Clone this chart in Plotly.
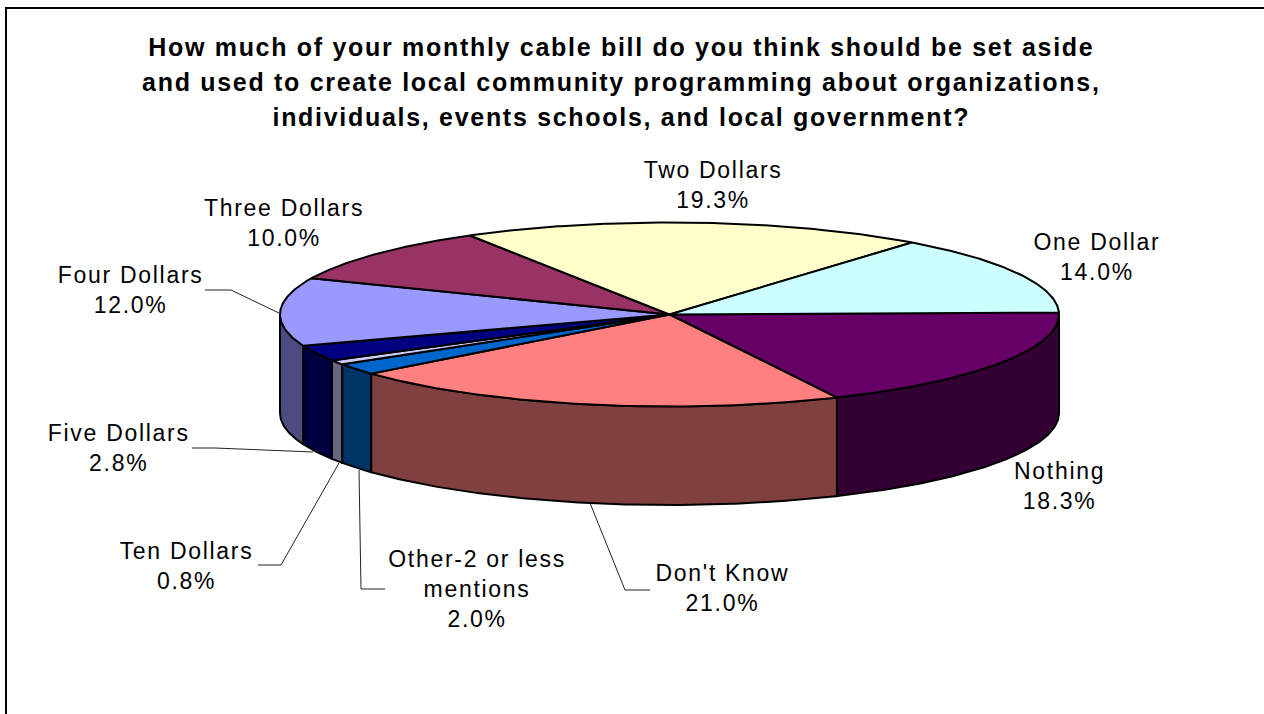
import numpy as np
import plotly.graph_objects as go

# Survey answers, in clockwise drawing order starting from 3 o'clock
categories = ["Nothing", "Don't Know", "Other-2 or less<br>mentions", "Ten Dollars",
              "Five Dollars", "Four Dollars", "Three Dollars", "Two Dollars", "One Dollar"]
shares = [18.3, 21.0, 2.0, 0.8, 2.8, 12.0, 10.0, 19.3, 14.0]
top_colors = ["#660066", "#FF8080", "#0066CC", "#CCCCFF", "#000080",
              "#9999FF", "#993366", "#FFFFCC", "#CCFFFF"]
wall_colors = ["#330033", "#804040", "#003366", "#666680", "#000040",
               "#4C4C80", "#4C1933", "#808066", "#668080"]

title_lines = [
    "How much of your monthly cable bill do you think should be set aside",
    "and used to create local community programming about organizations,",
    "individuals, events schools, and local government?",
]

W, H = 1264, 714
CX, CY = 669.5, 314.5    # centre of the pie's top face
RX, RY = 389.5, 92       # ellipse radii of the top face
DEPTH = 98.5             # height of the cylinder wall
ROTATION = -1.2          # degrees
EDGE = dict(color="black", width=2)

# Centre of each text label
label_xy = {
    "Nothing": (1059, 486), "Don't Know": (722, 588),
    "Other-2 or less<br>mentions": (477, 589), "Ten Dollars": (186, 566),
    "Five Dollars": (118, 448), "Four Dollars": (130, 290),
    "Three Dollars": (284, 223), "Two Dollars": (713, 185), "One Dollar": (1097, 257),
}

# Leader lines joining outlying labels to their slices
leaders = [
    [(205, 290), (231, 290), (281, 314)],
    [(192, 448), (215, 448), (313, 452)],
    [(258, 565), (281, 565), (339, 463)],
    [(385, 589), (361, 589), (359, 470)],
    [(650, 590), (625, 590), (590, 503)],
]


def rim(start, stop, drop=0.0):
    t = np.radians(np.linspace(start, stop, max(int(abs(stop - start) * 2), 2)))
    return CX + RX * np.cos(t), CY + RY * np.sin(t) + drop


values = np.array(shares)
edges = ROTATION + np.concatenate([[0], np.cumsum(values)]) / values.sum() * 360

fig = go.Figure()

# Cylinder wall: only the part of each slice facing the viewer
for i, color in enumerate(wall_colors):
    a, b = max(edges[i], 0), min(edges[i + 1], 180)
    if b <= a:
        continue
    x1, y1 = rim(a, b)
    x2, y2 = rim(b, a, DEPTH)
    fig.add_trace(go.Scatter(
        x=np.r_[x1, x2, x1[0]], y=np.r_[y1, y2, y1[0]], mode="lines",
        fill="toself", fillcolor=color, line=EDGE, hoverinfo="skip", showlegend=False))

# Top face
for i, color in enumerate(top_colors):
    x1, y1 = rim(edges[i], edges[i + 1])
    fig.add_trace(go.Scatter(
        x=np.r_[CX, x1, CX], y=np.r_[CY, y1, CY], mode="lines",
        fill="toself", fillcolor=color, line=EDGE,
        name=categories[i], hoverinfo="skip", showlegend=False))

for path in leaders:
    fig.add_trace(go.Scatter(
        x=[p[0] for p in path], y=[p[1] for p in path], mode="lines",
        line=dict(color="#222222", width=1), hoverinfo="skip", showlegend=False))

annotations = []
for name, share in zip(categories, shares):
    x, y = label_xy[name]
    annotations.append(dict(
        x=x, y=y, xref="x", yref="y", text=f"{name}<br>{share:.1f}%", showarrow=False,
        align="center", xanchor="center", yanchor="middle",
        font=dict(family="Liberation Sans", size=23, color="black")))
for line, y in zip(title_lines, (47, 82, 117)):
    annotations.append(dict(
        x=621, y=y, xref="x", yref="y", text=f"<b>{line}</b>", showarrow=False,
        xanchor="center", yanchor="middle",
        font=dict(family="Liberation Sans", size=25, color="black")))

fig.update_layout(
    width=W, height=H, autosize=False,
    margin=dict(l=0, r=0, t=0, b=0),
    paper_bgcolor="white", plot_bgcolor="white",
    xaxis=dict(range=[0, W], visible=False, fixedrange=True),
    yaxis=dict(range=[H, 0], visible=False, fixedrange=True),
    annotations=annotations,
    shapes=[dict(type="path", path=f"M 6 {H} L 6 8 L {W} 8",
                 line=dict(color="black", width=2), xref="x", yref="y")],
)

# Slightly open tracking on the annotation text
tracking = """
var gd = document.getElementsByClassName('plotly-graph-div')[0];
function track() {
  gd.querySelectorAll('.annotation-text').forEach(function (t) {
    t.style.letterSpacing = t.querySelector('b') ? '1.55px' : '1.7px';
  });
}
track();
gd.on('plotly_afterplot', track);
"""
fig.write_html("out.html", post_script=tracking, config={"displayModeBar": False})
